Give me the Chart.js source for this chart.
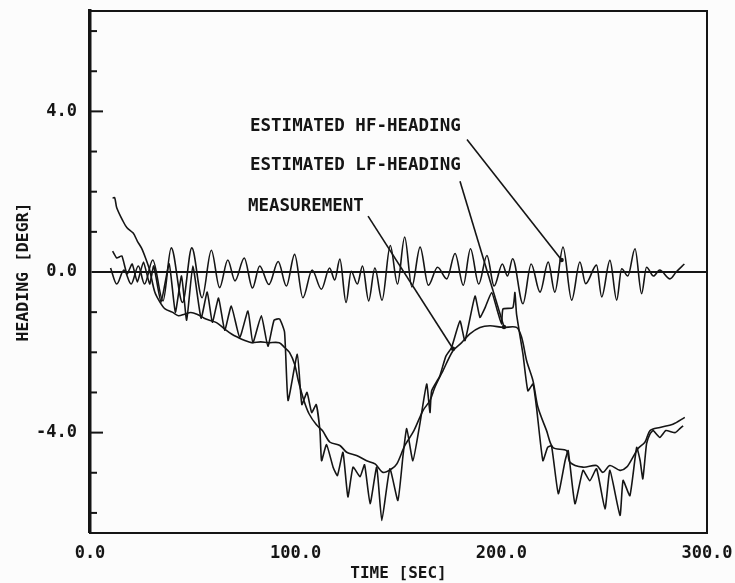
<!DOCTYPE html>
<html>
<head>
<meta charset="utf-8">
<title>Heading</title>
<script src="https://cdn.jsdelivr.net/npm/chart.js@4.4.0/dist/chart.umd.min.js"></script>
<style>
  html, body { margin: 0; padding: 0; background: #fcfcfc; }
  canvas { display: block; }
</style>
</head>
<body>
<canvas id="headingChart" width="735" height="583"></canvas>
<script>
// Estimated high-frequency heading [degr] against time [sec]
const hfTime = [
  10, 13, 16.5, 20, 23.5, 26.5, 30.5, 35.5, 39.5, 45,
  49.5, 54.5, 59, 63, 67, 70.5, 75, 79, 82.5, 87,
  91.5, 95.5, 99.5, 103.5, 108, 112.5, 116.5, 119, 121.5, 124.5,
  127, 130, 132.5, 135.5, 138.5, 142, 146, 149.5, 153, 156.5,
  160.5, 164.5, 169, 173.5, 177.5, 181.5, 185, 189, 193, 196.5,
  200.5, 203, 205.5, 210.5, 214.5, 218.8, 222.8, 226, 230, 234.2,
  238.2, 241, 246.3, 248.8, 252.8, 256.1, 258.5, 261.5, 265, 268.2,
  270.6, 274, 277, 282, 285, 289
];
const hfHeading = [
  0.1, -0.3, 0.05, -0.3, 0.15, -0.3, 0.3, -0.72, 0.6, -0.76,
  0.6, -0.64, 0.54, -0.39, 0.3, -0.22, 0.35, -0.4, 0.15, -0.31,
  0.26, -0.35, 0.44, -0.64, 0.05, -0.43, 0.1, -0.2, 0.32, -0.76,
  0.02, -0.3, 0.15, -0.72, 0.1, -0.7, 0.66, -0.3, 0.87, -0.37,
  0.62, -0.33, 0.12, -0.17, 0.46, -0.33, 0.58, -0.3, 0.41, -0.35,
  0.2, -0.1, 0.33, -0.79, 0.2, -0.5, 0.25, -0.5, 0.62, -0.7,
  0.25, -0.29, 0.17, -0.62, 0.29, -0.7, 0.08, -0.1, 0.58, -0.54,
  0.12, -0.1, 0.05, -0.17, 0, 0.2
];

// Estimated low-frequency heading
const lfTime = [
  11, 12, 13, 16, 18, 21, 23, 25, 27, 29,
  31.5, 34, 36.5, 40, 43, 46, 49, 52, 55.5, 58,
  61.5, 65.5, 69, 72, 75, 78.5, 83, 86.5, 92, 94.6,
  97, 99.5, 101.3, 104, 106.5, 110, 113, 116.7, 121.5, 124.8,
  129.6, 134.5, 138.6, 142.5, 146.7, 149.2, 153.1, 157.5, 161.9, 165.3,
  167.7, 171.6, 176.5, 180.7, 184.7, 189.6, 194.5, 200.8, 207.4, 209.9,
  212.3, 215.4, 217.8, 222, 225.1, 231.7, 233.4, 239.7, 246.3, 249.4,
  252.8, 257.7, 260.9, 264, 266.4, 269.8, 272.3, 277.1, 283.4, 289.2
];
const lfHeading = [
  1.84, 1.85, 1.6, 1.27, 1.1, 0.97, 0.77, 0.6, 0.35, 0.05,
  -0.5, -0.75, -0.92, -1.0, -1.09, -1.05, -1.01, -1.05, -1.15, -1.2,
  -1.26, -1.42, -1.55, -1.63, -1.7, -1.76, -1.74, -1.76, -1.76, -1.88,
  -2.0, -2.3, -2.71, -3.2, -3.53, -3.8, -3.95, -4.24, -4.32, -4.49,
  -4.57, -4.7, -4.78, -4.99, -4.9, -4.78, -4.32, -3.95, -3.45, -3.2,
  -2.87, -2.46, -1.96, -1.76, -1.54, -1.38, -1.34, -1.38, -1.38, -1.63,
  -2.21, -2.71, -3.37, -3.95, -4.37, -4.45, -4.74, -4.86, -4.82, -4.99,
  -4.82, -4.94, -4.86, -4.61, -4.4, -4.24, -3.95, -3.87, -3.79, -3.62
];

// Measured heading
const measTime = [
  11, 13, 15.5, 18, 20.5, 23, 26, 29, 31, 34.5,
  38.5, 41.5, 44.5, 47, 50, 54, 57, 59.5, 62.5, 65.5,
  68.7, 72.8, 76.8, 79.2, 83.3, 86.5, 89.5, 92.2, 94.6, 96.3,
  100.8, 103, 105.5, 107.8, 110, 111.8, 112.6, 115, 118.2, 120.3,
  123, 125.4, 127.9, 131.3, 133.5, 136.2, 139.4, 141.9, 145.8, 149.7,
  152.2, 154, 157, 160.4, 163.7, 165.3, 166.1, 170, 173, 175.8,
  179.9, 182.3, 187.2, 189.6, 192, 195.3, 198, 200.1, 200.8, 205.6,
  206.6, 207.4, 210.5, 212.9, 215.4, 217.1, 220.2, 222.5, 224.4, 227.7,
  231, 232.5, 235.8, 239.7, 243, 246.3, 250.4, 252.8, 257.7, 259.2,
  262.5, 265.8, 267.5, 268.8, 270.6, 272.3, 273.8, 277.1, 280, 284.5,
  286.8, 288.4
];
const measHeading = [
  0.52, 0.35, 0.4, -0.05, 0.2, -0.25, 0.25, -0.3, 0.15, -0.75,
  0.2, -1.0, -0.1, -1.2, 0.15, -1.15, -0.5, -1.25, -0.65, -1.45,
  -0.85, -1.63, -0.97, -1.76, -1.09, -1.85, -1.2, -1.17, -1.5, -3.2,
  -2.05, -3.3, -3.0, -3.5, -3.3, -3.95, -4.7, -4.3, -4.86, -5.07,
  -4.49, -5.6, -4.86, -5.1, -4.8, -5.77, -4.86, -6.19, -4.9, -5.69,
  -4.57, -3.9, -4.7, -3.78, -2.79, -3.5, -2.96, -2.6, -2.1, -1.88,
  -1.22, -1.71, -0.6, -1.13, -0.9, -0.51, -0.95, -1.3, -0.92, -0.89,
  -0.51, -1.05, -2.04, -2.96, -2.79, -3.37, -4.7, -4.37, -4.33, -5.52,
  -4.7, -4.45, -5.77, -4.94, -5.2, -4.9, -5.9, -4.94, -6.06, -5.19,
  -5.57, -4.37, -4.7, -5.15, -4.28, -4.03, -3.95, -4.12, -3.95, -4.0,
  -3.9, -3.83
];

// Axis ticks
const timeTicks = [0, 100, 200, 300];
const headingTicks = [-6, -5, -4, -3, -2, -1, 0, 1, 2, 3, 4, 5, 6];
const headingLabelled = [-4, 0, 4];

// Text labels with leader lines, in data units (time, heading)
const callouts = [
  { text: 'ESTIMATED HF-HEADING', at: [77.8, 3.63], from: [183.3, 3.3], to: [229.3, 0.3] },
  { text: 'ESTIMATED LF-HEADING', at: [77.8, 2.66], from: [179.9, 2.26], to: [201.3, -1.37] },
  { text: 'MEASUREMENT', at: [76.8, 1.64], from: [135.2, 1.39], to: [176.5, -1.91] }
];

const ink = '#151515';
const monoFont = 'DejaVu Sans Mono';

function toPoints(xs, ys) {
  return xs.map((x, i) => ({ x: x, y: ys[i] }));
}

// frame, inward ticks on the heading axis and the labelled leaders
const framePlugin = {
  id: 'framePlugin',
  afterDraw(chart) {
    const { ctx, chartArea: a } = chart;
    const xs = chart.scales.x;
    const ys = chart.scales.y;
    ctx.save();
    ctx.strokeStyle = ink;
    ctx.fillStyle = ink;
    ctx.lineWidth = 2;
    ctx.beginPath();
    ctx.moveTo(a.left, a.top);
    ctx.lineTo(a.right, a.top);
    ctx.lineTo(a.right, a.bottom);
    ctx.stroke();

    ys.ticks.forEach(t => {
      if (t.value === 0) return;
      const py = ys.getPixelForValue(t.value);
      const len = headingLabelled.includes(t.value) ? 13 : 7;
      ctx.beginPath();
      ctx.moveTo(a.left, py);
      ctx.lineTo(a.left + len, py);
      ctx.stroke();
    });

    ctx.font = 'bold 17.5px "' + monoFont + '"';
    ctx.textAlign = 'left';
    ctx.textBaseline = 'middle';
    ctx.lineWidth = 1.6;
    callouts.forEach(c => {
      ctx.fillText(c.text, xs.getPixelForValue(c.at[0]), ys.getPixelForValue(c.at[1]));
      const x0 = xs.getPixelForValue(c.from[0]);
      const y0 = ys.getPixelForValue(c.from[1]);
      const x1 = xs.getPixelForValue(c.to[0]);
      const y1 = ys.getPixelForValue(c.to[1]);
      ctx.beginPath();
      ctx.moveTo(x0, y0);
      ctx.lineTo(x1, y1);
      ctx.stroke();
      ctx.beginPath();
      ctx.arc(x1, y1, 2.2, 0, Math.PI * 2);
      ctx.fill();
    });
    ctx.restore();
  }
};

const ctx = document.getElementById('headingChart').getContext('2d');
const headingChart = new Chart(ctx, {
  type: 'line',
  data: {
    datasets: [
      {
        label: 'ESTIMATED HF-HEADING',
        data: toPoints(hfTime, hfHeading),
        borderColor: ink,
        borderWidth: 1.6,
        pointRadius: 0,
        cubicInterpolationMode: 'monotone'
      },
      {
        label: 'ESTIMATED LF-HEADING',
        data: toPoints(lfTime, lfHeading),
        borderColor: ink,
        borderWidth: 1.6,
        pointRadius: 0,
        tension: 0.3
      },
      {
        label: 'MEASUREMENT',
        data: toPoints(measTime, measHeading),
        borderColor: ink,
        borderWidth: 1.6,
        pointRadius: 0,
        tension: 0.15
      }
    ]
  },
  options: {
    responsive: false,
    animation: false,
    devicePixelRatio: 1,
    layout: { padding: { left: 0, top: 11, right: 28, bottom: 0 } },
    plugins: {
      legend: { display: false },
      tooltip: { enabled: false }
    },
    scales: {
      x: {
        type: 'linear',
        min: 0,
        max: 300,
        afterBuildTicks: scale => { scale.ticks = timeTicks.map(v => ({ value: v })); },
        afterFit: scale => { scale.height = 50; },
        grid: { display: false, drawTicks: true, tickLength: 8 },
        border: { display: true, color: ink, width: 2 },
        ticks: {
          color: ink,
          font: { family: monoFont, size: 17, weight: 'bold' },
          padding: 2,
          maxRotation: 0,
          autoSkip: false,
          callback: v => v.toFixed(1)
        },
        title: {
          display: true,
          text: 'TIME [SEC]',
          color: ink,
          font: { family: monoFont, size: 16, weight: 'bold' },
          padding: { top: 0, bottom: 0 }
        }
      },
      y: {
        min: -6.5,
        max: 6.5,
        afterBuildTicks: scale => { scale.ticks = headingTicks.map(v => ({ value: v })); },
        afterFit: scale => { scale.width = 90; },
        grid: {
          drawTicks: true,
          tickLength: 13,
          tickColor: 'rgba(0,0,0,0)',
          color: c => (c.tick && c.tick.value === 0 ? ink : 'rgba(0,0,0,0)'),
          lineWidth: c => (c.tick && c.tick.value === 0 ? 2 : 0)
        },
        border: { display: true, color: ink, width: 3.5 },
        ticks: {
          autoSkip: false,
          color: ink,
          font: { family: monoFont, size: 17, weight: 'bold' },
          padding: 0,
          callback: v => (headingLabelled.includes(v) ? v.toFixed(1) : '')
        },
        title: {
          display: true,
          text: 'HEADING [DEGR]',
          color: ink,
          font: { family: monoFont, size: 16.5, weight: 'bold' },
          padding: { top: 14, bottom: 0 }
        }
      }
    }
  },
  plugins: [framePlugin]
});
</script>
</body>
</html>
